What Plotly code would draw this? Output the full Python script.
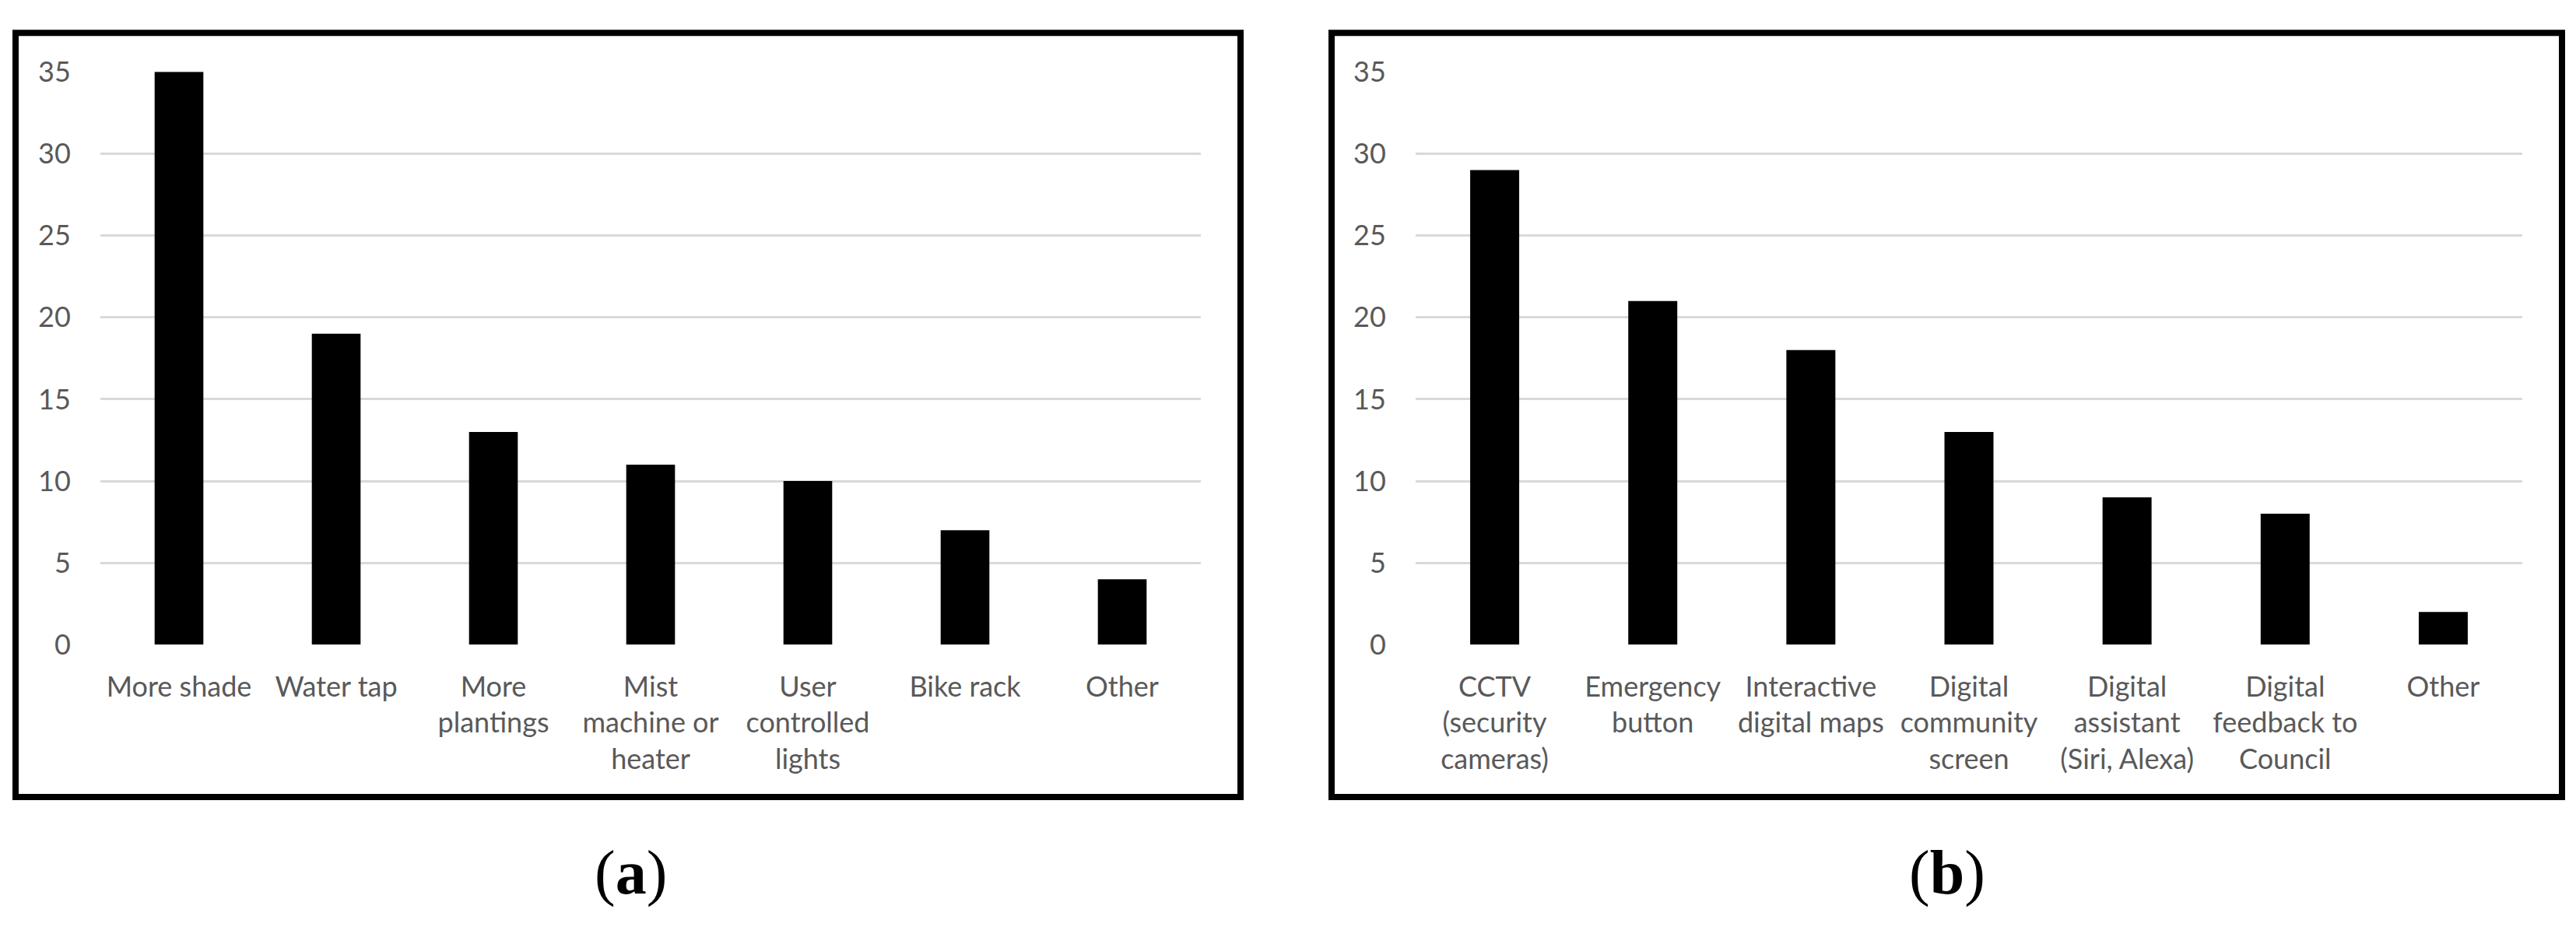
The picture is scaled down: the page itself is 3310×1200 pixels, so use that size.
import plotly.graph_objects as go

cats_a = ["More shade", "Water tap", "More<br>plantings", "Mist<br>machine or<br>heater",
          "User<br>controlled<br>lights", "Bike rack", "Other"]
vals_a = [35, 19, 13, 11, 10, 7, 4]

cats_b = ["CCTV<br>(security<br>cameras)", "Emergency<br>button", "Interactive<br>digital maps",
          "Digital<br>community<br>screen", "Digital<br>assistant<br>(Siri, Alexa)",
          "Digital<br>feedback to<br>Council", "Other"]
vals_b = [29, 21, 18, 13, 9, 8, 2]

y_ticks = [0, 5, 10, 15, 20, 25, 30, 35]
panel_labels = ["(<b>a</b>)", "(<b>b</b>)"]

W, H = 3310, 1200
font_main = "Lato, Carlito, Calibri, sans-serif"
txt_col = "#595959"
grid_col = "#d9d9d9"

fig = go.Figure()
fig.add_trace(go.Bar(x=cats_a, y=vals_a, marker=dict(color="black", line=dict(width=0)),
                     xaxis="x", yaxis="y", showlegend=False))
fig.add_trace(go.Bar(x=cats_b, y=vals_b, marker=dict(color="black", line=dict(width=0)),
                     xaxis="x2", yaxis="y2", showlegend=False))

ydom = [364 / H, 1128 / H]
xa = dict(showgrid=False, zeroline=False, showline=False, ticks="outside", ticklen=22,
          tickcolor="rgba(0,0,0,0)", tickfont=dict(family=font_main, size=36, color=txt_col),
          tickangle=0, fixedrange=True)
ya = dict(range=[0, 35], tickvals=y_ticks, showgrid=True, gridcolor=grid_col, gridwidth=3,
          zeroline=False, showline=False, ticks="outside", ticklen=30,
          tickcolor="rgba(0,0,0,0)", tickfont=dict(family=font_main, size=36, color=txt_col),
          fixedrange=True)

fig.update_layout(
    width=W, height=H,
    margin=dict(l=0, r=0, t=0, b=0),
    paper_bgcolor="white", plot_bgcolor="white",
    bargap=0.69,
    xaxis=dict(domain=[129 / W, 1543 / W], anchor="y", **xa),
    yaxis=dict(domain=ydom, anchor="x", **ya),
    xaxis2=dict(domain=[1819 / W, 3241 / W], anchor="y2", **xa),
    yaxis2=dict(domain=ydom, anchor="x2", **ya),
    shapes=[
        dict(type="rect", xref="paper", yref="paper", x0=20 / W, x1=1594 / W,
             y0=1 - 1039 / H, y1=1 - 20 / H, line=dict(color="black", width=8)),
        dict(type="rect", xref="paper", yref="paper", x0=1711 / W, x1=3292 / W,
             y0=1 - 1039 / H, y1=1 - 20 / H, line=dict(color="black", width=8)),
    ],
    annotations=[
        dict(text=panel_labels[0], x=810 / W, y=1 - 1140 / H, xref="paper", yref="paper",
             showarrow=False, xanchor="center", yanchor="middle",
             font=dict(family="Liberation Serif, Times New Roman, serif", size=80, color="black")),
        dict(text=panel_labels[1], x=2502 / W, y=1 - 1140 / H, xref="paper", yref="paper",
             showarrow=False, xanchor="center", yanchor="middle",
             font=dict(family="Liberation Serif, Times New Roman, serif", size=80, color="black")),
    ],
)

fig.write_html("out.html", config={"displayModeBar": False, "staticPlot": True},
               post_script="document.body.style.margin='0';")
